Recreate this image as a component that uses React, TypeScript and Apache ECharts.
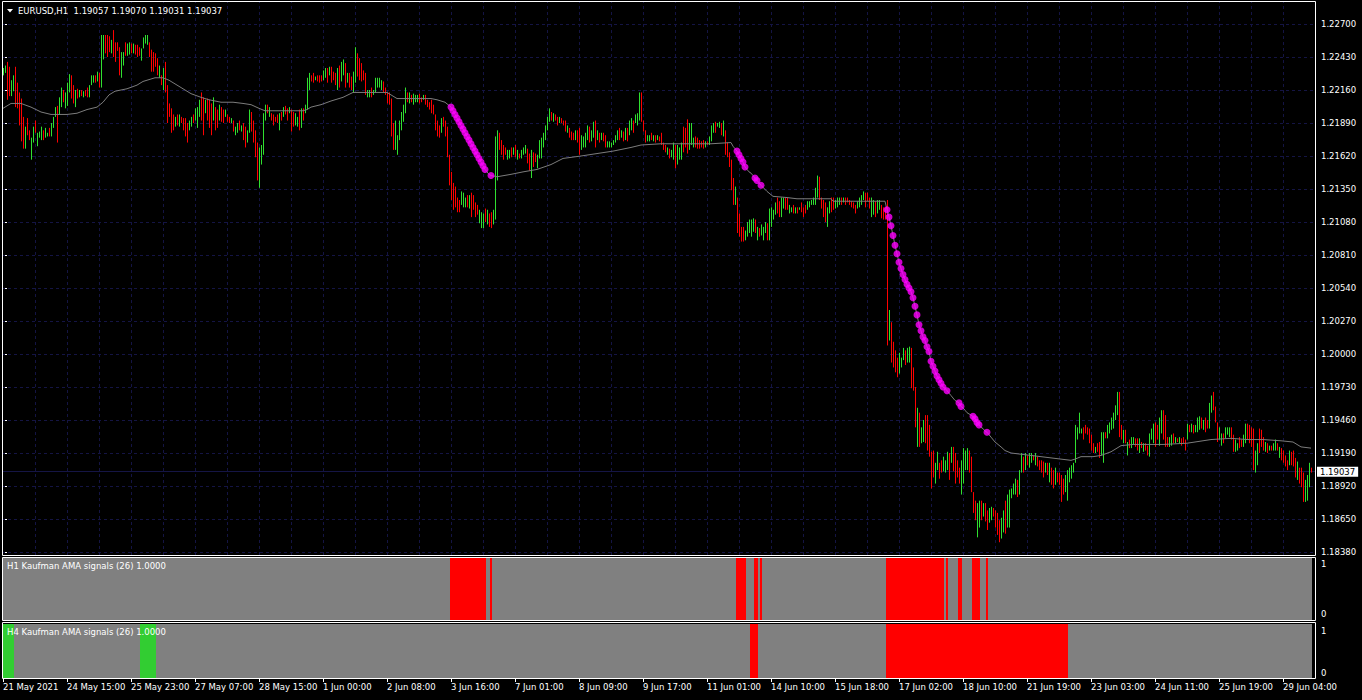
import React, { useEffect, useRef } from 'react';
import * as echarts from 'echarts';

// EURUSD H1 bars, prices in pips (price x 10 000)
const highPips = [
12234,12236,12239,12235,12224,12228,12235,12222,12214,12209,
12194,12186,12193,12183,12177,12186,12191,12181,12182,12186,
12183,12185,12181,12185,12189,12194,12202,12203,12210,12218,
12216,12214,12222,12229,12228,12220,12216,12217,12216,12216,
12215,12216,12218,12220,12228,12228,12228,12231,12230,12261,
12261,12261,12261,12260,12257,12265,12255,12255,12251,12247,
12247,12255,12254,12255,12254,12254,12253,12253,12251,12250,
12259,12261,12261,12255,12249,12247,12246,12242,12236,12228,
12234,12239,12220,12205,12201,12196,12194,12196,12196,12194,
12193,12193,12189,12191,12194,12196,12201,12202,12208,12214,
12210,12208,12209,12208,12205,12210,12202,12200,12204,12202,
12200,12200,12196,12194,12193,12191,12186,12189,12191,12187,
12189,12186,12183,12200,12198,12191,12183,12173,12169,12171,
12197,12204,12204,12202,12197,12196,12194,12196,12197,12198,
12202,12203,12201,12202,12200,12198,12197,12194,12200,12201,
12201,12204,12226,12230,12228,12230,12227,12228,12228,12228,
12232,12234,12234,12235,12235,12231,12230,12234,12236,12239,
12241,12238,12230,12230,12227,12231,12251,12246,12242,12238,
12232,12230,12216,12216,12218,12216,12226,12226,12226,12224,
12223,12218,12214,12214,12209,12189,12191,12179,12191,12198,
12204,12218,12214,12214,12212,12213,12212,12212,12213,12210,
12212,12212,12208,12206,12208,12204,12196,12191,12187,12193,
12194,12191,12186,12163,12149,12140,12137,12128,12126,12133,
12132,12128,12130,12130,12132,12130,12124,12122,12118,12116,
12115,12119,12118,12115,12116,12118,12178,12183,12181,12175,
12171,12169,12167,12167,12169,12169,12171,12167,12164,12167,
12169,12171,12168,12164,12167,12165,12164,12163,12175,12177,
12181,12187,12194,12201,12198,12197,12196,12194,12194,12193,
12191,12191,12187,12185,12182,12181,12183,12183,12185,12179,
12178,12181,12187,12186,12183,12190,12191,12183,12181,12181,
12181,12179,12174,12174,12173,12175,12179,12183,12185,12183,
12182,12185,12185,12191,12193,12191,12196,12197,12214,12214,
12191,12183,12179,12179,12181,12179,12179,12179,12178,12181,
12173,12171,12169,12168,12167,12173,12171,12171,12169,12173,
12186,12185,12192,12189,12189,12177,12178,12177,12175,12174,
12175,12174,12174,12178,12187,12189,12190,12189,12190,12189,
12191,12183,12173,12165,12159,12144,12137,12128,12115,12104,
12104,12101,12108,12110,12110,12111,12110,12104,12103,12106,
12104,12108,12107,12119,12120,12118,12124,12128,12125,12128,
12128,12128,12128,12122,12120,12122,12120,12120,12120,12124,
12120,12122,12125,12125,12126,12128,12136,12146,12145,12128,
12126,12124,12120,12125,12128,12128,12126,12128,12128,12128,
12128,12128,12128,12126,12125,12124,12122,12125,12128,12130,
12133,12132,12132,12128,12128,12126,12125,12126,12126,12122,
12120,12120,12126,12036,12026,12010,12003,11997,12001,11997,
12005,12003,12005,12006,12005,11989,11973,11956,11952,11940,
11946,11950,11950,11942,11920,11921,11911,11920,11911,11913,
11916,11913,11920,11919,11924,11924,11919,11913,11907,11913,
11923,11921,11923,11921,11916,11887,11880,11878,11880,11880,
11878,11878,11872,11874,11875,11874,11872,11870,11864,11866,
11872,11880,11885,11889,11890,11894,11898,11897,11905,11919,
11916,11919,11917,11919,11919,11917,11919,11916,11913,11913,
11912,11911,11911,11911,11907,11905,11907,11903,11903,11901,
11898,11901,11905,11907,11909,11911,11942,11940,11952,11939,
11940,11942,11940,11939,11934,11927,11924,11927,11928,11936,
11936,11936,11942,11944,11948,11952,11958,11969,11969,11942,
11938,11938,11928,11930,11932,11932,11931,11931,11931,11928,
11927,11927,11925,11935,11939,11943,11944,11942,11948,11954,
11954,11950,11932,11932,11934,11935,11932,11931,11932,11931,
11932,11930,11943,11942,11943,11942,11942,11948,11949,11948,
11946,11948,11946,11960,11966,11969,11957,11944,11940,11935,
11935,11940,11940,11940,11940,11934,11930,11927,11932,11930,
11934,11943,11943,11942,11940,11939,11921,11927,11939,11938,
11932,11928,11927,11925,11925,11927,11930,11927,11924,11923,
11921,11917,11913,11921,11920,11921,11915,11912,11907,11907,
11903,11897,11901,11911,11907];

const lowPips = [
12228,12230,12208,12211,12211,12215,12202,12201,12187,12174,
12168,12168,12179,12175,12159,12173,12181,12170,12177,12175,
12175,12177,12178,12178,12178,12185,12194,12173,12196,12202,
12206,12201,12203,12214,12209,12205,12202,12209,12210,12211,
12210,12211,12210,12210,12220,12222,12222,12223,12218,12218,
12241,12246,12243,12247,12246,12243,12239,12248,12228,12226,
12236,12244,12244,12245,12246,12246,12245,12243,12244,12240,
12250,12254,12253,12243,12231,12231,12235,12228,12226,12220,
12216,12214,12189,12194,12181,12183,12186,12187,12186,12189,
12183,12178,12173,12183,12186,12189,12191,12185,12194,12191,
12179,12197,12191,12185,12179,12191,12183,12185,12191,12190,
12189,12194,12190,12189,12189,12182,12179,12181,12183,12182,
12175,12169,12173,12181,12182,12173,12161,12142,12136,12155,
12163,12191,12197,12194,12191,12187,12190,12189,12183,12191,
12194,12196,12191,12197,12182,12186,12187,12186,12183,12185,
12191,12197,12200,12216,12223,12222,12224,12223,12222,12223,
12224,12226,12222,12228,12222,12224,12220,12216,12218,12223,
12228,12218,12222,12218,12216,12214,12222,12227,12224,12223,
12224,12212,12210,12210,12210,12212,12214,12218,12218,12216,
12214,12212,12205,12204,12178,12167,12167,12163,12175,12183,
12190,12197,12206,12205,12206,12204,12206,12206,12205,12206,
12208,12204,12202,12200,12197,12196,12183,12178,12177,12181,
12186,12178,12161,12138,12126,12118,12120,12116,12116,12122,
12120,12120,12120,12119,12112,12118,12112,12114,12107,12103,
12103,12108,12106,12104,12103,12106,12110,12142,12167,12163,
12159,12163,12159,12160,12161,12163,12161,12159,12160,12160,
12163,12164,12156,12150,12144,12153,12157,12152,12160,12160,
12169,12175,12183,12190,12191,12190,12191,12187,12189,12189,
12187,12182,12181,12177,12175,12175,12175,12173,12163,12167,
12169,12169,12175,12173,12174,12177,12169,12175,12173,12175,
12174,12169,12169,12169,12169,12171,12173,12175,12175,12177,
12174,12175,12174,12179,12183,12181,12189,12187,12191,12190,
12182,12173,12174,12174,12175,12174,12173,12175,12174,12171,
12167,12165,12163,12160,12161,12159,12152,12155,12159,12159,
12165,12169,12164,12167,12171,12169,12169,12168,12168,12169,
12168,12169,12171,12171,12174,12181,12181,12186,12185,12179,
12178,12163,12161,12153,12134,12122,12122,12099,12096,12092,
12092,12093,12096,12099,12096,12100,12099,12093,12096,12097,
12093,12099,12093,12093,12104,12110,12114,12115,12112,12112,
12119,12118,12118,12115,12116,12115,12115,12115,12118,12116,
12112,12115,12118,12120,12122,12122,12122,12128,12126,12119,
12112,12108,12104,12115,12116,12118,12119,12120,12122,12122,
12124,12122,12124,12122,12120,12119,12115,12119,12120,12122,
12126,12120,12125,12119,12112,12114,12112,12115,12118,12111,
12110,12110,12007,12011,11993,11989,11985,11981,11984,11989,
11995,11991,11993,11993,11972,11970,11940,11924,11924,11927,
11928,11927,11921,11916,11890,11899,11894,11905,11898,11903,
11904,11903,11905,11897,11911,11904,11894,11899,11894,11885,
11894,11905,11905,11903,11887,11870,11864,11850,11858,11864,
11867,11863,11856,11862,11864,11867,11858,11852,11846,11849,
11854,11853,11858,11858,11882,11885,11885,11883,11885,11903,
11903,11905,11909,11907,11911,11913,11909,11908,11905,11903,
11899,11903,11901,11895,11893,11890,11893,11895,11893,11879,
11885,11887,11880,11895,11898,11903,11911,11930,11935,11935,
11930,11935,11934,11927,11921,11919,11919,11920,11915,11917,
11911,11931,11931,11935,11938,11939,11946,11950,11932,11930,
11927,11927,11917,11923,11923,11926,11924,11921,11919,11923,
11920,11921,11917,11916,11930,11927,11924,11930,11925,11935,
11930,11924,11924,11924,11925,11927,11927,11928,11927,11925,
11927,11921,11930,11936,11936,11935,11936,11936,11938,11939,
11938,11936,11939,11939,11952,11954,11944,11928,11930,11925,
11927,11931,11934,11932,11930,11920,11920,11921,11923,11924,
11924,11927,11930,11927,11924,11905,11903,11909,11919,11924,
11921,11920,11919,11921,11921,11921,11921,11921,11915,11913,
11911,11908,11905,11909,11909,11908,11899,11897,11894,11891,
11879,11879,11880,11891,11903];

// G = up bar, R = down bar (10 bars per string)
const barDirections = [
'GGRRGGRRRR','RGRRGGRGGG','RGGRGGGRGG','RGGGRRGRGR','GRRGGGRGRG',
'GRRRGRRRRG','GRGGRGRRRG','GGGRRRRRGR','GRRRRRGRGR','RRRGGRGGGR',
'RGRRRGRRGR','RGRRGRGGRG','RRGGRRRRGG','GGRGRRRRGR','GRRGRRGGRG',
'RGGGRRGRRR','GGRGRRRGRG','GRGRRGGRRR','RRGGRGGGGG','RRRRRRGGGG',
'GGRGRGGGRR','GRRRRRRRRG','RRRRRRRRRG','GGRGRRRRGG','GRGRRGGGRR',
'RRGGRGRGRG','GGRRGRRGGG','GGGGRGRRGR','RRGRRRGRRG','GGGRGGRGRG',
'RRGGGGGGRG','RGRGGRGGGR','RRGGRGRGRR','RRGRGGRGGG','RRRGGGRRRR',
'RGRGGGRGGR','GRRRRRGRRR','RGGGGGRGRG','GGRGGGGRRG','GRRGGRGRGR',
'RRGGGGGGRR','RRGGRRGGGR','GRRRRRRGGG','GRRRGGRGGR','RRRGRRRRGG',
'GRGGRRRGRG','GRRRRRGGRR','GGGRGRRRRG','GGGRRRRGGR','GRRGGRRRRG',
'GRGGGGGRGG','RGRGGRGRRR','RGRGRRGRRR','RGGGGGGGGG','RRRRRRGRRG',
'GRGGGGGGRR','GRGRGGRRGR','GRRGGGRRGG','RRRGGRGRGR','RRGRGRGGGR',
'GRRGGRRRGG','RGGGRRGGRR','GGRRRRGGRR','RGRGRGGRGR','RRRGRRRGRR',
'RGGGR'];

// Kaufman AMA(26) line, read as [bar index, pips]
const amaKnots: [number, number][] = [
[0,12201],[4,12205],[9,12205],[14,12202],[19,12198],[24,12196],[32,12196],[37,12197],[42,12200],[47,12202],
[50,12206],[53,12212],[56,12215],[62,12217],[67,12220],[70,12223],[74,12225],[76,12226],[80,12226],[83,12224],
[86,12221],[90,12217],[94,12213],[99,12210],[103,12208],[109,12206],[115,12206],[120,12205],[124,12204],[128,12201],
[131,12199],[150,12199],[152,12200],[154,12202],[159,12204],[164,12207],[170,12210],[175,12214],[178,12214],[192,12214],
[197,12209],[214,12209],[217,12208],[221,12206],
[224,12202],[225,12199],[226,12196],[227,12193],[228,12190],[229,12187],[230,12184],[231,12181],[232,12178],[233,12175],
[234,12172],[235,12169],[236,12166],[237,12163],[238,12160],[239,12157],[240,12154],[241,12151],[242,12149],[243,12147],
[244,12146],[247,12145],[254,12147],[260,12149],[267,12151],[274,12155],[280,12160],[289,12162],[297,12164],[305,12166],
[314,12169],[319,12171],[329,12172],[354,12172],[364,12173],[365,12170],[366,12168],[367,12166],[368,12163],[369,12160],
[370,12157],[371,12153],[372,12151],[373,12149],[374,12148],[375,12146],[376,12144],[377,12142],[378,12140],[379,12138],
[382,12133],[385,12129],[392,12128],[397,12127],[414,12127],[415,12125],[441,12125],
[442,12118],[443,12112],[444,12105],[445,12097],[446,12089],[447,12082],[448,12075],[449,12070],[450,12065],[451,12061],
[452,12057],[453,12054],[454,12051],[455,12046],[456,12039],[457,12032],[458,12024],[459,12019],[460,12014],[461,12011],
[462,12006],[463,12002],[464,11994],[465,11990],[466,11986],[467,11982],[468,11979],[469,11976],[470,11973],[471,11972],
[472,11970],[473,11968],[474,11966],[475,11964],[476,11962],[477,11961],[478,11960],[479,11957],[480,11956],[481,11954],
[482,11952],[483,11951],[484,11950],[485,11949],[486,11947],[487,11944],[488,11942],[489,11940],[490,11939],[491,11937],
[492,11936],[494,11932],[496,11928],[499,11924],[501,11921],[504,11919],[509,11918],[519,11916],[529,11914],[534,11913],
[536,11914],[539,11916],[545,11916],[549,11917],[554,11920],[559,11925],[565,11926],[580,11926],[592,11927],[604,11930],
[614,11931],[622,11930],[630,11930],[639,11929],[645,11928],[649,11924],[654,11923]];

// signal windows (bar index ranges, inclusive)
const h1DownRanges = [[224,241],[244,244],[367,371],[376,377],[379,379],[442,470],[472,472],[478,479],[485,488],[492,492]];
const h4UpRanges = [[0,5],[69,76]];
const h4DownRanges = [[374,377],[442,532]];
const signalValue = 1;

const priceTicks = [11838,11865,11892,11919,11946,11973,12000,12027,12054,12081,12108,12135,12162,12189,12216,12243,12270];
const timeLabels = ['21 May 2021','24 May 15:00','25 May 23:00','27 May 07:00','28 May 15:00','1 Jun 00:00','2 Jun 08:00',
  '3 Jun 16:00','7 Jun 01:00','8 Jun 09:00','9 Jun 17:00','11 Jun 01:00','14 Jun 10:00','15 Jun 18:00','17 Jun 02:00',
  '18 Jun 10:00','21 Jun 19:00','23 Jun 03:00','24 Jun 11:00','25 Jun 19:00','29 Jun 04:00'];
const barsPerTimeLabel = 32;
const barsPerGridLine = 16;
const titleText = 'EURUSD,H1  1.19057 1.19070 1.19031 1.19037';
const lastClosePips = 11903.7;
const h1Label = 'H1 Kaufman AMA signals (26) 1.0000';
const h4Label = 'H4 Kaufman AMA signals (26) 1.0000';

const FONT = 'DejaVu Sans';
const FS = 8.5;
const UP = '#2fe02f';
const DOWN = '#ff0000';
const HIST = ['#808080', '#ff0000', '#32cd32'];
const GRIDC = '#141444';

export default function App() {
  const ref = useRef<HTMLDivElement>(null);
  useEffect(() => {
    if (!ref.current) return;
    const chart = echarts.init(ref.current, null, { renderer: 'svg' });
    const n = highPips.length;
    const dirs = barDirections.join('');
    const barData = highPips.map((h, i) => [i, h, lowPips[i], dirs[i] === 'G' ? 1 : 0]);
    const amaMap = new Map(amaKnots.map(([i, v]) => [i, v]));
    const inR = (i: number, rs: number[][]) => rs.some(([a, b]) => i >= a && i <= b);
    const h1Data: number[][] = [];
    const h4Data: number[][] = [];
    const dots: number[][] = [];
    for (let i = 0; i < n; i++) {
      const s1 = inR(i, h1DownRanges) ? 1 : 0;
      const s4 = inR(i, h4DownRanges) ? 1 : inR(i, h4UpRanges) ? 2 : 0;
      h1Data.push([i, signalValue, s1]);
      h4Data.push([i, signalValue, s4]);
      if (s1 === 1 && amaMap.has(i)) dots.push([i, amaMap.get(i) as number]);
    }
    const labelBars = timeLabels.map((_, k) => k * barsPerTimeLabel);
    const gridBars: number[] = [];
    for (let b = barsPerGridLine; b < n; b += barsPerGridLine) gridBars.push(b);

    const slots = n + 2;
    const xAx = (gridIndex: number, show: boolean) => ({
      type: 'value', gridIndex, min: -0.5, max: slots - 0.5, show,
      axisLine: { show: false },
      splitLine: { show: false },
      axisTick: { show, customValues: labelBars, length: 4, lineStyle: { color: '#fff' } },
      axisLabel: {
        show, customValues: labelBars, align: 'left', color: '#fff', fontFamily: FONT, fontSize: FS, margin: 4,
        formatter: (v: number) => timeLabels[Math.round(v / barsPerTimeLabel)] ?? '',
      },
    });

    const histRender = (params: any, api: any) => {
      const i = api.value(0);
      const a = api.coord([i - 0.5, api.value(1)]);
      const b = api.coord([i + 0.5, 0]);
      const x0 = Math.round(a[0]);
      const x1 = Math.round(b[0]);
      return {
        type: 'rect',
        shape: { x: x0, y: a[1], width: x1 - x0, height: b[1] - a[1] },
        style: { fill: HIST[api.value(2)] },
      };
    };

    const option: any = {
      animation: false,
      backgroundColor: '#000',
      grid: [
        { left: 2, top: 2, width: 1314, height: 553 },
        { left: 2, top: 558, width: 1314, height: 62 },
        { left: 2, top: 624, width: 1314, height: 54 },
      ],
      xAxis: [xAx(0, false), xAx(1, false), xAx(2, true)],
      yAxis: [
        {
          type: 'value', gridIndex: 0, position: 'right', min: 11835.55, max: 12288,
          axisLine: { show: false }, splitLine: { show: false },
          axisTick: { show: true, customValues: priceTicks, length: 4, lineStyle: { color: '#fff' } },
          axisLabel: {
            customValues: priceTicks, color: '#fff', fontFamily: FONT, fontSize: FS, margin: 5,
            formatter: (v: number) => (v / 10000).toFixed(5),
          },
        },
        { type: 'value', gridIndex: 1, min: 0, max: 1, show: false },
        { type: 'value', gridIndex: 2, min: 0, max: 1, show: false },
      ],
      series: [
        {
          type: 'custom', name: 'bars', xAxisIndex: 0, yAxisIndex: 0, z: 2, silent: true,
          data: barData, encode: { x: 0, y: [1, 2] },
          renderItem: (params: any, api: any) => {
            const i = api.value(0);
            const top = api.coord([i, api.value(1)]);
            const bot = api.coord([i, api.value(2)]);
            const x = Math.floor(top[0] + 0.25) + 0.5;
            return {
              type: 'line',
              shape: { x1: x, y1: top[1], x2: x, y2: bot[1] },
              style: { stroke: api.value(3) === 1 ? UP : DOWN, lineWidth: 1 },
            };
          },
          markLine: {
            silent: true, z: 1, symbol: ['none', 'none'],
            label: { show: false },
            lineStyle: { color: GRIDC, type: [3, 3], width: 1 },
            emphasis: { disabled: true },
            data: [
              ...priceTicks.map((v) => ({ yAxis: v })),
              ...gridBars.map((b) => ({ xAxis: b })),
              {
                yAxis: lastClosePips,
                lineStyle: { color: '#151545', type: 'solid', width: 1 },
                label: {
                  show: true, position: 'end', distance: 1,
                  formatter: (lastClosePips / 10000).toFixed(5),
                  color: '#000', backgroundColor: '#fff', padding: [1, 3, 0, 3],
                  fontFamily: FONT, fontSize: FS,
                },
              },
            ],
          },
        },
        {
          type: 'line', name: 'AMA', xAxisIndex: 0, yAxisIndex: 0, z: 3, silent: true,
          data: amaKnots, showSymbol: false, symbol: 'none',
          lineStyle: { color: '#7c7c7c', width: 1 },
        },
        {
          type: 'scatter', name: 'signals', xAxisIndex: 0, yAxisIndex: 0, z: 4, silent: true,
          data: dots, symbolSize: 7, itemStyle: { color: '#ff00ff' },
        },
        {
          type: 'custom', name: 'H1', xAxisIndex: 1, yAxisIndex: 1, silent: true,
          data: h1Data, encode: { x: 0, y: 1 }, renderItem: histRender,
        },
        {
          type: 'custom', name: 'H4', xAxisIndex: 2, yAxisIndex: 2, silent: true,
          data: h4Data, encode: { x: 0, y: 1 }, renderItem: histRender,
        },
      ],
      graphic: [
        { type: 'rect', silent: true, z: 50, shape: { x: 2.5, y: 1.5, width: 1313, height: 554 }, style: { fill: 'none', stroke: '#fff', lineWidth: 1 } },
        { type: 'rect', silent: true, z: 50, shape: { x: 2.5, y: 557.5, width: 1313, height: 63 }, style: { fill: 'none', stroke: '#fff', lineWidth: 1 } },
        { type: 'rect', silent: true, z: 50, shape: { x: 2.5, y: 622.5, width: 1313, height: 56 }, style: { fill: 'none', stroke: '#fff', lineWidth: 1 } },
        { type: 'polygon', silent: true, z: 50, shape: { points: [[7, 9], [13, 9], [10, 12.5]] }, style: { fill: '#fff' } },
        { type: 'text', silent: true, z: 50, x: 18, y: 10.5, style: { text: titleText, fill: '#fff', fontFamily: FONT, fontSize: FS, verticalAlign: 'middle' } },
        { type: 'text', silent: true, z: 50, x: 7, y: 566, style: { text: h1Label, fill: '#fff', fontFamily: FONT, fontSize: FS, verticalAlign: 'middle' } },
        { type: 'text', silent: true, z: 50, x: 7, y: 632, style: { text: h4Label, fill: '#fff', fontFamily: FONT, fontSize: FS, verticalAlign: 'middle' } },
        { type: 'text', silent: true, z: 50, x: 1321, y: 564, style: { text: '1', fill: '#fff', fontFamily: FONT, fontSize: FS, verticalAlign: 'middle' } },
        { type: 'text', silent: true, z: 50, x: 1321, y: 614, style: { text: '0', fill: '#fff', fontFamily: FONT, fontSize: FS, verticalAlign: 'middle' } },
        { type: 'text', silent: true, z: 50, x: 1321, y: 630.5, style: { text: '1', fill: '#fff', fontFamily: FONT, fontSize: FS, verticalAlign: 'middle' } },
        { type: 'text', silent: true, z: 50, x: 1321, y: 673, style: { text: '0', fill: '#fff', fontFamily: FONT, fontSize: FS, verticalAlign: 'middle' } },
      ],
    };
    chart.setOption(option);
    return () => chart.dispose();
  }, []);
  return (
    <div
      ref={ref}
      style={{ position: 'fixed', left: 0, top: 0, width: 1362, height: 700, background: '#000' }}
    />
  );
}
